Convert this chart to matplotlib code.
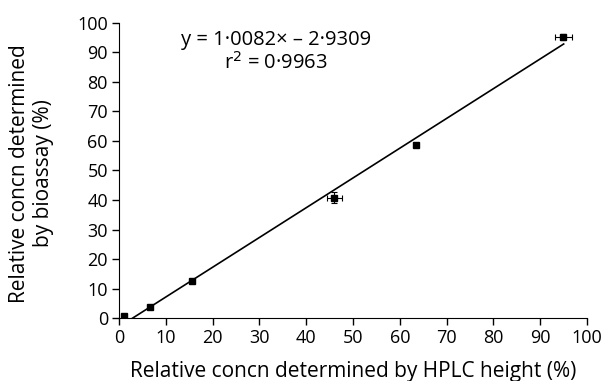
import numpy as np
import matplotlib
matplotlib.use("Agg")
import matplotlib.pyplot as plt

plt.rcParams['font.family'] = ['Open Sans', 'DejaVu Sans']

# data
hplc = [1.0, 6.6, 15.6, 46.0, 63.4, 94.9]
bioassay = [0.6, 3.7, 12.5, 40.8, 58.6, 95.2]
hplc_err = [0, 0, 0, 1.6, 0, 1.8]
bio_err = [0, 0, 0, 1.9, 0, 0.9]

slope = 1.0082
intercept = -2.9309
r2 = 0.9963

fig = plt.figure(figsize=(6.04, 3.81), dpi=100)
ax = fig.add_axes([0.197, 0.165, 0.775, 0.775])

# regression line
xl = np.array([-intercept / slope, 95.0])
ax.plot(xl, slope * xl + intercept, color='black', lw=1.2)

ax.errorbar(hplc, bioassay, xerr=hplc_err, yerr=bio_err, fmt='s', color='black',
            ms=4.5, elinewidth=0.8, capsize=2, capthick=0.8)

ax.text(0.336, 0.942, 'y = 1·0082× – 2·9309', transform=ax.transAxes,
        ha='center', va='center', fontsize=14.5)
ax.text(0.336, 0.864, 'r$^2$ = 0·9963', transform=ax.transAxes,
        ha='center', va='center', fontsize=14.5)

ax.set_xlim(0, 100)
ax.set_ylim(0, 100)
ax.set_xticks(range(0, 101, 10))
ax.set_yticks(range(0, 101, 10))
ax.spines['top'].set_visible(False)
ax.spines['right'].set_visible(False)
ax.tick_params(direction='out', length=5, width=1, labelsize=13, pad=3)
ax.set_xlabel('Relative concn determined by HPLC height (%)', fontsize=15)
ax.set_ylabel('Relative concn determined\nby bioassay (%)', fontsize=15,
              linespacing=1.2)
ax.xaxis.set_label_coords(0.5, -0.145)
ax.yaxis.set_label_coords(-0.139, 0.49)

fig.savefig('out.png', dpi=100)
